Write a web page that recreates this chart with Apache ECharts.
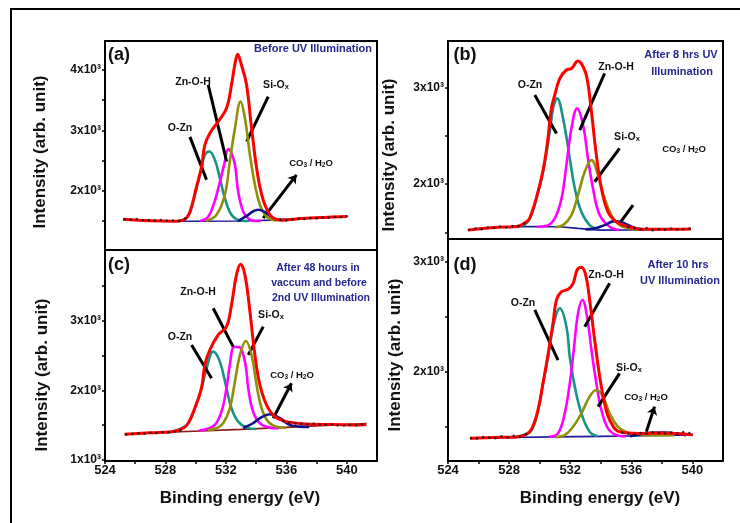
<html>
<head>
<meta charset="utf-8">
<title></title>
<script src="https://cdn.jsdelivr.net/npm/echarts@6/dist/echarts.min.js"></script>
</head>
<body style="margin:0;background:#fff">
<div id="main" style="width:740px;height:523px;"></div>
<script>
// binding energy axis (eV)
var xLabelValues = [524, 528, 532, 536, 540];
var xTickValues = [524, 526, 528, 530, 532, 534, 536, 538, 540];

// panel (a) Before UV illumination
var aYLabels = [2000, 3000, 4000];
var aYTicks = [1500, 2000, 2500, 3000, 3500, 4000];
var aBase = [[525.2,1530],[527.6,1500],[530,1495],[533,1500],[535,1515],[537,1540],[540,1575]];
var aOZn = [[528.8,1497],[529.3,1530],[529.6,1620],[529.8,1800],[530.06,2045],[530.39,2375],[530.61,2595],[530.9,2650],[531.27,2512],[531.6,2210],[531.93,1879],[532.37,1603],[532.93,1510],[533.5,1500]];
var aZnOH = [[530.3,1500],[530.8,1560],[531.2,1780],[531.5,2045],[531.9,2450],[532.16,2690],[532.35,2640],[532.6,2430],[532.81,1990],[533.14,1658],[533.5,1540],[533.8,1505],[534.3,1500]];
var aSiOx = [[530.7,1500],[531.38,1603],[531.93,1934],[532.26,2485],[532.6,3036],[532.97,3476],[533.26,3201],[533.59,2595],[533.92,2100],[534.25,1769],[534.69,1575],[535.24,1515],[535.8,1512]];
var aCO3 = [[532.8,1500],[533.48,1603],[533.8,1660],[534.14,1686],[534.5,1660],[534.8,1610],[535.46,1520],[536,1515]];
var aFit = [[525.2,1530],[527,1505],[528.5,1497],[529.2,1520],[529.6,1640],[530.06,2070],[530.39,2400],[530.61,2760],[530.94,2953],[531.49,3146],[532.04,3366],[532.37,3752],[532.6,4100],[532.78,4260],[533.03,4082],[533.37,3752],[533.7,3036],[534.14,2210],[534.58,1769],[535.13,1548],[535.8,1515],[537,1540],[538.5,1560],[540,1575]];
var aRaw = [[525.3,1528],[525.7,1522],[526.1,1533],[526.5,1515],[526.9,1518],[527.3,1508],[527.7,1515],[528.1,1503],[528.5,1508],[528.9,1500],[529.3,1540],[535.6,1520],[536,1512],[536.4,1530],[536.8,1538],[537.2,1532],[537.6,1548],[538,1545],[538.4,1558],[538.8,1552],[539.2,1565],[539.6,1568],[540,1578]];

// panel (b) After 8 hrs UV illumination
var bYLabels = [2000, 3000];
var bYTicks = [1500, 2000, 2500, 3000];
var bBase = [[525.3,1522],[526.5,1540],[527.4,1555],[529,1560],[531.3,1557],[532.5,1540],[533.9,1522],[536,1525],[538,1530],[539.9,1535]];
var bOZn = [[528.3,1560],[528.92,1574],[529.36,1644],[529.79,1851],[530.22,2128],[530.66,2543],[530.9,2800],[531.14,2890],[531.53,2682],[531.97,2267],[532.3,1955],[532.73,1712],[533.27,1574],[533.8,1535]];
var bZnOH = [[529.8,1557],[530.45,1567],[530.99,1644],[531.43,1851],[531.75,2197],[532.08,2578],[532.45,2786],[532.84,2613],[533.16,2267],[533.49,1955],[533.93,1678],[534.58,1557],[535.2,1525]];
var bSiOx = [[531,1555],[531.53,1574],[532.08,1678],[532.51,1886],[532.95,2128],[533.39,2249],[533.82,2093],[534.25,1851],[534.69,1678],[535.23,1574],[535.89,1540],[536.5,1525]];
var bCO3 = [[533,1530],[533.6,1540],[534.25,1574],[534.91,1616],[535.56,1592],[536.21,1546],[536.8,1525]];
var bFit = [[525.3,1522],[527,1550],[528.5,1560],[529.14,1609],[529.36,1650],[529.79,1860],[530.22,2140],[530.5,2420],[530.77,2786],[530.99,2924],[531.32,3098],[531.75,3184],[532.08,3200],[532.51,3277],[532.84,3220],[533.1,3098],[533.39,2751],[533.71,2301],[534.04,1955],[534.47,1712],[535.02,1608],[535.67,1564],[536.5,1535],[538,1530],[539.9,1535]];
var bRaw = [[525.4,1525],[525.8,1540],[526.2,1530],[526.6,1550],[527,1545],[527.4,1560],[527.8,1550],[528.2,1565],[528.6,1562],[529,1590],[535.8,1555],[536.2,1545],[536.6,1530],[537,1545],[537.4,1520],[537.8,1530],[538.2,1525],[538.6,1540],[539,1528],[539.4,1535],[539.8,1540]];

// panel (c) After 48 hours in vacuum
var cYLabels = [1000, 2000, 3000];
var cYTicks = [1000, 1500, 2000, 2500, 3000, 3500];
var cBase = [[525.3,1370],[529,1405],[533,1440],[537,1480],[541.3,1525]];
var cOZn = [[528.3,1395],[528.96,1446],[529.51,1528],[529.95,1744],[530.39,2032],[530.72,2319],[531.16,2558],[531.6,2414],[532.04,2032],[532.37,1744],[532.81,1551],[533.37,1465],[534,1445]];
var cZnOH = [[530.2,1420],[530.72,1446],[531.27,1504],[531.71,1695],[532.04,2032],[532.26,2367],[532.55,2625],[532.85,2625],[533.26,2414],[533.48,2032],[533.8,1695],[534.25,1528],[534.91,1465],[535.5,1455]];
var cSiOx = [[530.8,1430],[531.38,1456],[531.82,1528],[532.26,1744],[532.6,2127],[532.93,2511],[533.32,2712],[533.7,2511],[534.03,2079],[534.36,1744],[534.8,1551],[535.35,1479],[536,1465]];
var cCO3 = [[533.14,1460],[533.8,1528],[534.25,1600],[534.91,1657],[535.57,1600],[536.23,1504],[536.89,1479],[537.5,1475]];
var cFit = [[525.3,1370],[527,1390],[528.5,1410],[529.2,1460],[529.51,1530],[529.95,1750],[530.39,2040],[530.61,2367],[530.94,2583],[531.49,2799],[532.04,2918],[532.37,3230],[532.7,3662],[532.97,3816],[533.26,3662],[533.59,3134],[533.92,2511],[534.25,2079],[534.69,1791],[535.24,1623],[536.01,1551],[537.55,1513],[539,1510],[540.86,1504],[541.3,1515]];
var cRaw = [[525.4,1365],[525.8,1375],[526.2,1380],[526.6,1378],[527,1392],[527.4,1388],[527.8,1400],[528.2,1395],[528.6,1410],[529,1425],[535.8,1560],[536.2,1540],[536.6,1525],[537,1520],[537.4,1515],[537.8,1520],[538.2,1510],[538.6,1505],[539,1512],[539.4,1500],[539.8,1495],[540.2,1505],[540.6,1500],[541,1515]];

// panel (d) After 10 hrs UV illumination
var dYLabels = [2000, 3000];
var dYTicks = [1500, 2000, 2500, 3000];
var dBase = [[525.44,1397],[528,1405],[531,1410],[534,1415],[537,1420],[540.02,1427]];
var dOZn = [[528.3,1405],[528.92,1427],[529.47,1473],[529.9,1655],[530.22,1897],[530.55,2139],[530.88,2412],[531.32,2579],[531.75,2412],[531.97,2139],[532.3,1867],[532.73,1624],[533.27,1457],[533.8,1415]];
var dZnOH = [[530.6,1410],[531.2,1442],[531.64,1624],[531.97,1897],[532.23,2200],[532.51,2533],[532.8,2655],[533.1,2503],[533.39,2200],[533.71,1897],[534.04,1655],[534.47,1488],[535.02,1427],[535.6,1415]];
var dSiOx = [[531,1410],[531.64,1427],[532.19,1503],[532.73,1624],[533.27,1776],[533.71,1836],[534.14,1776],[534.58,1624],[535.12,1503],[535.89,1442],[536.8,1425],[538.8,1425]];
var dCO3 = [[535.9,1415],[536.6,1435],[537.3,1448],[538.2,1450],[539,1440],[539.6,1425]];
var dFit = [[525.44,1397],[527,1405],[528.5,1410],[529.1,1430],[529.47,1480],[529.9,1660],[530.22,1900],[530.55,2160],[530.88,2450],[531.1,2655],[531.43,2730],[531.86,2752],[532.19,2806],[532.45,2927],[532.73,2952],[533.01,2882],[533.27,2655],[533.6,2291],[533.93,1958],[534.25,1715],[534.58,1564],[535.23,1457],[536.54,1442],[538,1445],[539,1440],[540.02,1430]];
var dRaw = [[525.5,1400],[525.9,1395],[526.3,1410],[526.7,1402],[527.1,1398],[527.5,1415],[527.9,1405],[528.3,1420],[528.7,1410],[529.1,1432],[535.4,1450],[535.8,1440],[536.2,1430],[536.6,1445],[537,1438],[537.4,1452],[537.8,1445],[538.2,1440],[538.6,1450],[539,1438],[539.4,1455],[539.8,1445]];

// annotation pointer lines [labelEnd, peakEnd, arrow]
var aPointers = [[[529.62,2893],[530.72,2182],0],[[530.83,3752],[532.05,2484],0],[[534.8,3559],[533.37,2815],0],[[536.67,2264],[534.47,1549],1]];
var bPointers = [[[529.68,2924],[531.1,2526],0],[[534.25,3150],[532.62,2561],0],[[535.23,2371],[533.6,2024],0],[[536.11,1782],[535.23,1592],0]];
var cPointers = [[[529.73,2655],[531.05,2176],0],[[531.16,3183],[532.48,2630],0],[[534.47,2918],[533.48,2511],0],[[536.34,2104],[535.13,1600],1]];
var dPointers = [[[529.68,2564],[531.2,2109],0],[[534.58,2806],[532.95,2412],0],[[535.23,1988],[533.82,1685],0],[[537.52,1685],[536.98,1457],1]];

var FONT = '"Liberation Sans", Arial, sans-serif';
var panels = [
    {grid: {left: 105, top: 41, width: 272, height: 209}, ymin: 1020, ymax: 4480, yt: aYTicks, yl: aYLabels, xl: false,
     s: [aBase, aOZn, aZnOH, aSiOx, aCO3, aFit, aRaw], p: aPointers, baseColor: '#1c1c9c'},
    {grid: {left: 448, top: 41, width: 275, height: 198}, ymin: 1430, ymax: 3485, yt: bYTicks, yl: bYLabels, xl: false,
     s: [bBase, bOZn, bZnOH, bSiOx, bCO3, bFit, bRaw], p: bPointers, baseColor: '#1c1c9c'},
    {grid: {left: 105, top: 250, width: 272, height: 211}, ymin: 985, ymax: 4020, yt: cYTicks, yl: cYLabels, xl: true,
     s: [cBase, cOZn, cZnOH, cSiOx, cCO3, cFit, cRaw], p: cPointers, baseColor: '#8b1a1a'},
    {grid: {left: 448, top: 239, width: 275, height: 222}, ymin: 1191, ymax: 3209, yt: dYTicks, yl: dYLabels, xl: true,
     s: [dBase, dOZn, dZnOH, dSiOx, dCO3, dFit, dRaw], p: dPointers, baseColor: '#1c1c9c'}
];
var compColors = ['#179488', '#ff00ff', '#8f8f0a', '#10108a'];

var grids = [], xAxes = [], yAxes = [], series = [];
panels.forEach(function (pn, i) {
    grids.push(Object.assign({show: true, borderColor: '#000', borderWidth: 2, backgroundColor: '#fff'}, pn.grid));
    xAxes.push({
        type: 'value', gridIndex: i, min: 524, max: 542,
        axisLine: {lineStyle: {color: '#000', width: 2}},
        axisTick: {show: pn.xl, inside: false, length: 3, customValues: xTickValues, lineStyle: {color: '#000', width: 1.5}},
        axisLabel: {show: pn.xl, customValues: xLabelValues, color: '#111', fontFamily: FONT, fontWeight: 'bold', fontSize: 13, margin: 3},
        splitLine: {show: false}
    });
    yAxes.push({
        type: 'value', gridIndex: i, min: pn.ymin, max: pn.ymax,
        axisLine: {show: true, lineStyle: {color: '#000', width: 2}},
        axisTick: {show: true, inside: false, length: 3, customValues: pn.yt, lineStyle: {color: '#000', width: 1.5}},
        axisLabel: {customValues: pn.yl, color: '#111', fontFamily: FONT, fontWeight: 'bold', fontSize: 12, margin: 4,
            formatter: function (v) { return (v / 1000) + 'x10\u00b3'; }},
        splitLine: {show: false}
    });
    var colors = [pn.baseColor].concat(compColors).concat(['#ff0000']);
    for (var k = 0; k < 6; k++) {
        var sr = {
            type: 'line', xAxisIndex: i, yAxisIndex: i, data: pn.s[k], smooth: k === 0 ? false : 0.4,
            symbol: 'none', silent: true, animation: false, z: 2 + k,
            lineStyle: {color: colors[k], width: k === 0 ? 1.6 : (k === 5 ? 3 : 2.6)}
        };
        if (k === 0) {
            sr.markLine = {
                silent: true, animation: false, symbol: 'none', symbolSize: 8,
                lineStyle: {color: '#000', width: 3, type: 'solid'},
                label: {show: false}, emphasis: {disabled: true},
                data: pn.p.map(function (q) {
                    return [{coord: q[0], symbol: q[2] ? 'arrow' : 'none', symbolSize: 8},
                            {coord: q[1], symbol: 'none'}];
                })
            };
        }
        series.push(sr);
    }
    series.push({
        type: 'scatter', xAxisIndex: i, yAxisIndex: i, data: pn.s[6], symbolSize: 2.5,
        itemStyle: {color: '#111'}, silent: true, animation: false, z: 9
    });
});

function txt(x, y, text, size, color, extra) {
    return Object.assign({
        type: 'text', x: x, y: y, z: 100,
        style: {text: text, fill: color || '#111', font: 'bold ' + size + 'px ' + FONT, align: 'center', verticalAlign: 'middle',
            rich: {sub: {fontSize: size - 3, fontWeight: 'bold', fontFamily: FONT, fill: color || '#111', verticalAlign: 'bottom', padding: [4, 0, 0, 0]}}}
    }, extra || {});
}
var navy = '#262690';
var graphics = [
    {type: 'rect', shape: {x: 11, y: 9, width: 740, height: 530}, style: {fill: null, stroke: '#000', lineWidth: 2}, z: 0, silent: true},
    // panel tags
    txt(119, 55, '(a)', 18), txt(465, 55, '(b)', 18), txt(119, 265, '(c)', 18), txt(465, 265, '(d)', 18),
    // conditions
    txt(313, 49, 'Before UV Illumination', 11, navy),
    txt(681, 55, 'After 8 hrs UV', 11, navy), txt(682, 72, 'Illumination', 11, navy),
    txt(318, 268, 'After 48 hours in', 10.5, navy), txt(319, 283, 'vaccum and before', 10.5, navy), txt(321, 298, '2nd UV Illumination', 10.5, navy),
    txt(678, 265, 'After 10 hrs', 11, navy), txt(680, 281, 'UV Illumination', 11, navy),
    // peak labels
    txt(180, 128, 'O-Zn', 10.5), txt(193, 82, 'Zn-O-H', 10.5), txt(276, 85, 'Si-O{sub|x}', 10.5), txt(311, 163, 'CO{sub|3} / H{sub|2}O', 9.5),
    txt(530, 85, 'O-Zn', 10.5), txt(616, 67, 'Zn-O-H', 10.5), txt(627, 137, 'Si-O{sub|x}', 10.5), txt(684, 149, 'CO{sub|3} / H{sub|2}O', 9.5),
    txt(180, 337, 'O-Zn', 10.5), txt(198, 292, 'Zn-O-H', 10.5), txt(271, 315, 'Si-O{sub|x}', 10.5), txt(292, 375, 'CO{sub|3} / H{sub|2}O', 9.5),
    txt(523, 303, 'O-Zn', 10.5), txt(606, 275, 'Zn-O-H', 10.5), txt(629, 368, 'Si-O{sub|x}', 10.5), txt(646, 397, 'CO{sub|3} / H{sub|2}O', 9.5),
    // axis names
    txt(40, 152, 'Intensity (arb. unit)', 17, '#111', {rotation: Math.PI / 2}),
    txt(42, 375, 'Intensity (arb. unit)', 17, '#111', {rotation: Math.PI / 2}),
    txt(389, 155, 'Intensity (arb. unit)', 17, '#111', {rotation: Math.PI / 2}),
    txt(395, 355, 'Intensity (arb. unit)', 17, '#111', {rotation: Math.PI / 2}),
    txt(240, 498, 'Binding energy (eV)', 17),
    txt(600, 498, 'Binding energy (eV)', 17)
];

var myChart = echarts.init(document.getElementById('main'), null, {renderer: 'canvas'});
myChart.setOption({
    animation: false,
    backgroundColor: '#fff',
    grid: grids,
    xAxis: xAxes,
    yAxis: yAxes,
    series: series,
    graphic: graphics
});
</script>
</body>
</html>
